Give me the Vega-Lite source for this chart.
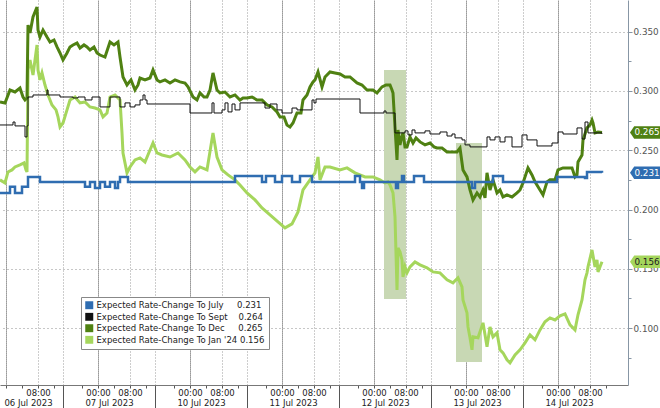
{
"$schema": "https://vega.github.io/schema/vega-lite/v6.json",
"width": 628, "height": 385,
"autosize": {"type": "none"},
"padding": {"left": 0, "top": 0, "right": 32, "bottom": 23},
"background": "white",
"config": {"view": {"stroke": null}, "font": "DejaVu Sans", "axis": {"labelFont": "DejaVu Sans", "labelFontSize": 8.5}, "legend": {"labelFont": "DejaVu Sans"}},
"datasets": {
"zones": [{"q1":413,"q2":435,"v1":0.3177,"v2":0.1246},{"q1":485,"q2":511,"v1":0.2561,"v2":0.0715}],
"tags": [{"s":"Dec","v":0.265},{"s":"July","v":0.231},{"s":"Jan '24","v":0.156}],
"series": [
{"s":"Dec","q":29,"v":0.2907},{"s":"Dec","q":34,"v":0.2899},{"s":"Dec","q":39,"v":0.3008},{"s":"Dec","q":44,"v":0.2991},{"s":"Dec","q":49,"v":0.3025},{"s":"Dec","q":52,"v":0.2949},{"s":"Dec","q":54,"v":0.2924},{"s":"Dec","q":56,"v":0.2941},{"s":"Dec","q":57,"v":0.3556},{"s":"Dec","q":59,"v":0.3489},{"s":"Dec","q":62,"v":0.3624},{"s":"Dec","q":66,"v":0.3708},{"s":"Dec","q":67,"v":0.3514},{"s":"Dec","q":69,"v":0.3455},{"s":"Dec","q":72,"v":0.3514},{"s":"Dec","q":76,"v":0.3455},{"s":"Dec","q":79,"v":0.3413},{"s":"Dec","q":83,"v":0.3430},{"s":"Dec","q":86,"v":0.3371},{"s":"Dec","q":89,"v":0.3320},{"s":"Dec","q":92,"v":0.3261},{"s":"Dec","q":96,"v":0.3320},{"s":"Dec","q":99,"v":0.3371},{"s":"Dec","q":102,"v":0.3388},{"s":"Dec","q":106,"v":0.3404},{"s":"Dec","q":109,"v":0.3362},{"s":"Dec","q":113,"v":0.3388},{"s":"Dec","q":116,"v":0.3371},{"s":"Dec","q":119,"v":0.3345},{"s":"Dec","q":123,"v":0.3371},{"s":"Dec","q":126,"v":0.3320},{"s":"Dec","q":129,"v":0.3303},{"s":"Dec","q":134,"v":0.3286},{"s":"Dec","q":139,"v":0.3413},{"s":"Dec","q":143,"v":0.3388},{"s":"Dec","q":147,"v":0.3413},{"s":"Dec","q":149,"v":0.3286},{"s":"Dec","q":152,"v":0.3118},{"s":"Dec","q":156,"v":0.3050},{"s":"Dec","q":160,"v":0.3093},{"s":"Dec","q":164,"v":0.3008},{"s":"Dec","q":167,"v":0.3050},{"s":"Dec","q":169,"v":0.3109},{"s":"Dec","q":174,"v":0.3093},{"s":"Dec","q":179,"v":0.3109},{"s":"Dec","q":182,"v":0.3177},{"s":"Dec","q":186,"v":0.3093},{"s":"Dec","q":189,"v":0.3076},{"s":"Dec","q":194,"v":0.3093},{"s":"Dec","q":199,"v":0.3067},{"s":"Dec","q":204,"v":0.3093},{"s":"Dec","q":209,"v":0.3076},{"s":"Dec","q":214,"v":0.3067},{"s":"Dec","q":217,"v":0.3034},{"s":"Dec","q":222,"v":0.2949},{"s":"Dec","q":226,"v":0.2924},{"s":"Dec","q":229,"v":0.2983},{"s":"Dec","q":233,"v":0.2949},{"s":"Dec","q":236,"v":0.2949},{"s":"Dec","q":239,"v":0.3008},{"s":"Dec","q":242,"v":0.3152},{"s":"Dec","q":246,"v":0.3008},{"s":"Dec","q":249,"v":0.2983},{"s":"Dec","q":254,"v":0.2991},{"s":"Dec","q":259,"v":0.2949},{"s":"Dec","q":264,"v":0.2966},{"s":"Dec","q":269,"v":0.2924},{"s":"Dec","q":272,"v":0.2941},{"s":"Dec","q":276,"v":0.2941},{"s":"Dec","q":281,"v":0.2949},{"s":"Dec","q":286,"v":0.2924},{"s":"Dec","q":291,"v":0.2924},{"s":"Dec","q":296,"v":0.2882},{"s":"Dec","q":301,"v":0.2865},{"s":"Dec","q":306,"v":0.2823},{"s":"Dec","q":309,"v":0.2781},{"s":"Dec","q":313,"v":0.2781},{"s":"Dec","q":316,"v":0.2713},{"s":"Dec","q":319,"v":0.2696},{"s":"Dec","q":322,"v":0.2730},{"s":"Dec","q":326,"v":0.2814},{"s":"Dec","q":330,"v":0.2814},{"s":"Dec","q":332,"v":0.2924},{"s":"Dec","q":336,"v":0.2966},{"s":"Dec","q":339,"v":0.3034},{"s":"Dec","q":342,"v":0.3076},{"s":"Dec","q":344,"v":0.3093},{"s":"Dec","q":347,"v":0.3160},{"s":"Dec","q":351,"v":0.3034},{"s":"Dec","q":354,"v":0.3118},{"s":"Dec","q":359,"v":0.3160},{"s":"Dec","q":364,"v":0.3152},{"s":"Dec","q":369,"v":0.3143},{"s":"Dec","q":374,"v":0.3118},{"s":"Dec","q":379,"v":0.3118},{"s":"Dec","q":386,"v":0.3067},{"s":"Dec","q":391,"v":0.3050},{"s":"Dec","q":396,"v":0.3008},{"s":"Dec","q":402,"v":0.3008},{"s":"Dec","q":406,"v":0.2983},{"s":"Dec","q":411,"v":0.3034},{"s":"Dec","q":415,"v":0.3050},{"s":"Dec","q":419,"v":0.3050},{"s":"Dec","q":421,"v":0.3008},{"s":"Dec","q":422,"v":0.2983},{"s":"Dec","q":424,"v":0.2696},{"s":"Dec","q":426,"v":0.2418},{"s":"Dec","q":427,"v":0.2671},{"s":"Dec","q":429,"v":0.2545},{"s":"Dec","q":430,"v":0.2587},{"s":"Dec","q":432,"v":0.2646},{"s":"Dec","q":434,"v":0.2528},{"s":"Dec","q":436,"v":0.2528},{"s":"Dec","q":439,"v":0.2612},{"s":"Dec","q":442,"v":0.2561},{"s":"Dec","q":445,"v":0.2604},{"s":"Dec","q":449,"v":0.2570},{"s":"Dec","q":454,"v":0.2545},{"s":"Dec","q":459,"v":0.2561},{"s":"Dec","q":463,"v":0.2528},{"s":"Dec","q":466,"v":0.2519},{"s":"Dec","q":471,"v":0.2519},{"s":"Dec","q":476,"v":0.2486},{"s":"Dec","q":481,"v":0.2486},{"s":"Dec","q":486,"v":0.2486},{"s":"Dec","q":489,"v":0.2519},{"s":"Dec","q":492,"v":0.2334},{"s":"Dec","q":496,"v":0.2275},{"s":"Dec","q":499,"v":0.2165},{"s":"Dec","q":502,"v":0.2081},{"s":"Dec","q":506,"v":0.2140},{"s":"Dec","q":509,"v":0.2106},{"s":"Dec","q":512,"v":0.2165},{"s":"Dec","q":514,"v":0.2098},{"s":"Dec","q":516,"v":0.2309},{"s":"Dec","q":519,"v":0.2165},{"s":"Dec","q":522,"v":0.2250},{"s":"Dec","q":526,"v":0.2140},{"s":"Dec","q":529,"v":0.2165},{"s":"Dec","q":532,"v":0.2106},{"s":"Dec","q":536,"v":0.2123},{"s":"Dec","q":541,"v":0.2106},{"s":"Dec","q":546,"v":0.2140},{"s":"Dec","q":549,"v":0.2165},{"s":"Dec","q":552,"v":0.2224},{"s":"Dec","q":557,"v":0.2351},{"s":"Dec","q":561,"v":0.2292},{"s":"Dec","q":564,"v":0.2233},{"s":"Dec","q":569,"v":0.2165},{"s":"Dec","q":572,"v":0.2123},{"s":"Dec","q":576,"v":0.2233},{"s":"Dec","q":579,"v":0.2250},{"s":"Dec","q":584,"v":0.2250},{"s":"Dec","q":587,"v":0.2334},{"s":"Dec","q":592,"v":0.2351},{"s":"Dec","q":597,"v":0.2351},{"s":"Dec","q":601,"v":0.2351},{"s":"Dec","q":604,"v":0.2275},{"s":"Dec","q":606,"v":0.2292},{"s":"Dec","q":607,"v":0.2401},{"s":"Dec","q":611,"v":0.2460},{"s":"Dec","q":612,"v":0.2587},{"s":"Dec","q":616,"v":0.2688},{"s":"Dec","q":619,"v":0.2713},{"s":"Dec","q":621,"v":0.2755},{"s":"Dec","q":622,"v":0.2730},{"s":"Dec","q":624,"v":0.2646},{"s":"Dec","q":627,"v":0.2654},{"s":"Dec","q":631,"v":0.2650},
{"s":"Jan '24","q":29,"v":0.2250},{"s":"Jan '24","q":34,"v":0.2224},{"s":"Jan '24","q":37,"v":0.2317},{"s":"Jan '24","q":41,"v":0.2334},{"s":"Jan '24","q":44,"v":0.2359},{"s":"Jan '24","q":49,"v":0.2376},{"s":"Jan '24","q":53,"v":0.2393},{"s":"Jan '24","q":55,"v":0.2334},{"s":"Jan '24","q":56,"v":0.2317},{"s":"Jan '24","q":57,"v":0.3177},{"s":"Jan '24","q":59,"v":0.3261},{"s":"Jan '24","q":62,"v":0.3135},{"s":"Jan '24","q":64,"v":0.3261},{"s":"Jan '24","q":66,"v":0.3388},{"s":"Jan '24","q":67,"v":0.3177},{"s":"Jan '24","q":69,"v":0.3093},{"s":"Jan '24","q":71,"v":0.3152},{"s":"Jan '24","q":74,"v":0.3050},{"s":"Jan '24","q":77,"v":0.2966},{"s":"Jan '24","q":81,"v":0.2882},{"s":"Jan '24","q":85,"v":0.2840},{"s":"Jan '24","q":87,"v":0.2781},{"s":"Jan '24","q":89,"v":0.2696},{"s":"Jan '24","q":92,"v":0.2730},{"s":"Jan '24","q":96,"v":0.2840},{"s":"Jan '24","q":99,"v":0.2924},{"s":"Jan '24","q":104,"v":0.2949},{"s":"Jan '24","q":109,"v":0.2899},{"s":"Jan '24","q":114,"v":0.2907},{"s":"Jan '24","q":119,"v":0.2865},{"s":"Jan '24","q":124,"v":0.2856},{"s":"Jan '24","q":129,"v":0.2840},{"s":"Jan '24","q":132,"v":0.2781},{"s":"Jan '24","q":136,"v":0.2814},{"s":"Jan '24","q":139,"v":0.2949},{"s":"Jan '24","q":144,"v":0.2966},{"s":"Jan '24","q":149,"v":0.2924},{"s":"Jan '24","q":151,"v":0.2646},{"s":"Jan '24","q":152,"v":0.2477},{"s":"Jan '24","q":156,"v":0.2309},{"s":"Jan '24","q":159,"v":0.2359},{"s":"Jan '24","q":164,"v":0.2418},{"s":"Jan '24","q":169,"v":0.2435},{"s":"Jan '24","q":174,"v":0.2401},{"s":"Jan '24","q":179,"v":0.2502},{"s":"Jan '24","q":182,"v":0.2561},{"s":"Jan '24","q":186,"v":0.2477},{"s":"Jan '24","q":191,"v":0.2460},{"s":"Jan '24","q":199,"v":0.2443},{"s":"Jan '24","q":207,"v":0.2477},{"s":"Jan '24","q":214,"v":0.2418},{"s":"Jan '24","q":219,"v":0.2359},{"s":"Jan '24","q":224,"v":0.2317},{"s":"Jan '24","q":229,"v":0.2359},{"s":"Jan '24","q":236,"v":0.2334},{"s":"Jan '24","q":242,"v":0.2646},{"s":"Jan '24","q":246,"v":0.2443},{"s":"Jan '24","q":251,"v":0.2334},{"s":"Jan '24","q":257,"v":0.2292},{"s":"Jan '24","q":264,"v":0.2250},{"s":"Jan '24","q":269,"v":0.2207},{"s":"Jan '24","q":276,"v":0.2140},{"s":"Jan '24","q":284,"v":0.2081},{"s":"Jan '24","q":291,"v":0.2013},{"s":"Jan '24","q":299,"v":0.1955},{"s":"Jan '24","q":307,"v":0.1896},{"s":"Jan '24","q":314,"v":0.1845},{"s":"Jan '24","q":321,"v":0.1879},{"s":"Jan '24","q":327,"v":0.1980},{"s":"Jan '24","q":332,"v":0.2165},{"s":"Jan '24","q":339,"v":0.2250},{"s":"Jan '24","q":344,"v":0.2309},{"s":"Jan '24","q":347,"v":0.2443},{"s":"Jan '24","q":349,"v":0.2250},{"s":"Jan '24","q":354,"v":0.2359},{"s":"Jan '24","q":359,"v":0.2359},{"s":"Jan '24","q":369,"v":0.2334},{"s":"Jan '24","q":376,"v":0.2351},{"s":"Jan '24","q":384,"v":0.2309},{"s":"Jan '24","q":394,"v":0.2275},{"s":"Jan '24","q":402,"v":0.2275},{"s":"Jan '24","q":409,"v":0.2250},{"s":"Jan '24","q":414,"v":0.2224},{"s":"Jan '24","q":417,"v":0.2233},{"s":"Jan '24","q":419,"v":0.2207},{"s":"Jan '24","q":422,"v":0.2140},{"s":"Jan '24","q":424,"v":0.1938},{"s":"Jan '24","q":426,"v":0.1322},{"s":"Jan '24","q":427,"v":0.1676},{"s":"Jan '24","q":429,"v":0.1643},{"s":"Jan '24","q":431,"v":0.1575},{"s":"Jan '24","q":432,"v":0.1432},{"s":"Jan '24","q":434,"v":0.1516},{"s":"Jan '24","q":436,"v":0.1466},{"s":"Jan '24","q":439,"v":0.1516},{"s":"Jan '24","q":444,"v":0.1558},{"s":"Jan '24","q":449,"v":0.1533},{"s":"Jan '24","q":456,"v":0.1508},{"s":"Jan '24","q":462,"v":0.1474},{"s":"Jan '24","q":469,"v":0.1466},{"s":"Jan '24","q":476,"v":0.1407},{"s":"Jan '24","q":482,"v":0.1381},{"s":"Jan '24","q":487,"v":0.1424},{"s":"Jan '24","q":491,"v":0.1348},{"s":"Jan '24","q":492,"v":0.1238},{"s":"Jan '24","q":496,"v":0.1128},{"s":"Jan '24","q":497,"v":0.1010},{"s":"Jan '24","q":499,"v":0.0918},{"s":"Jan '24","q":501,"v":0.0817},{"s":"Jan '24","q":502,"v":0.0926},{"s":"Jan '24","q":507,"v":0.0918},{"s":"Jan '24","q":512,"v":0.1044},{"s":"Jan '24","q":516,"v":0.0842},{"s":"Jan '24","q":519,"v":0.1010},{"s":"Jan '24","q":522,"v":0.0926},{"s":"Jan '24","q":526,"v":0.0960},{"s":"Jan '24","q":529,"v":0.0817},{"s":"Jan '24","q":532,"v":0.0791},{"s":"Jan '24","q":536,"v":0.0732},{"s":"Jan '24","q":539,"v":0.0707},{"s":"Jan '24","q":544,"v":0.0774},{"s":"Jan '24","q":549,"v":0.0817},{"s":"Jan '24","q":554,"v":0.0876},{"s":"Jan '24","q":559,"v":0.0943},{"s":"Jan '24","q":564,"v":0.0901},{"s":"Jan '24","q":569,"v":0.0985},{"s":"Jan '24","q":574,"v":0.1053},{"s":"Jan '24","q":579,"v":0.1086},{"s":"Jan '24","q":584,"v":0.1069},{"s":"Jan '24","q":589,"v":0.1103},{"s":"Jan '24","q":594,"v":0.1120},{"s":"Jan '24","q":599,"v":0.1027},{"s":"Jan '24","q":604,"v":0.0985},{"s":"Jan '24","q":607,"v":0.1112},{"s":"Jan '24","q":611,"v":0.1238},{"s":"Jan '24","q":614,"v":0.1407},{"s":"Jan '24","q":616,"v":0.1466},{"s":"Jan '24","q":617,"v":0.1516},{"s":"Jan '24","q":621,"v":0.1659},{"s":"Jan '24","q":624,"v":0.1516},{"s":"Jan '24","q":626,"v":0.1575},{"s":"Jan '24","q":627,"v":0.1474},{"s":"Jan '24","q":631,"v":0.1560},
{"s":"Sept","q":29,"v":0.2713},{"s":"Sept","q":42,"v":0.2738},{"s":"Sept","q":44,"v":0.2705},{"s":"Sept","q":54,"v":0.2612},{"s":"Sept","q":56,"v":0.2705},{"s":"Sept","q":57,"v":0.2949},{"s":"Sept","q":62,"v":0.2966},{"s":"Sept","q":76,"v":0.3008},{"s":"Sept","q":77,"v":0.2966},{"s":"Sept","q":89,"v":0.2949},{"s":"Sept","q":102,"v":0.2941},{"s":"Sept","q":107,"v":0.2949},{"s":"Sept","q":114,"v":0.2924},{"s":"Sept","q":121,"v":0.2949},{"s":"Sept","q":129,"v":0.2865},{"s":"Sept","q":139,"v":0.2949},{"s":"Sept","q":149,"v":0.2865},{"s":"Sept","q":154,"v":0.2899},{"s":"Sept","q":159,"v":0.2865},{"s":"Sept","q":164,"v":0.2882},{"s":"Sept","q":169,"v":0.2924},{"s":"Sept","q":172,"v":0.2966},{"s":"Sept","q":174,"v":0.2924},{"s":"Sept","q":176,"v":0.2890},{"s":"Sept","q":219,"v":0.2814},{"s":"Sept","q":241,"v":0.2899},{"s":"Sept","q":243,"v":0.2814},{"s":"Sept","q":251,"v":0.2840},{"s":"Sept","q":254,"v":0.2899},{"s":"Sept","q":257,"v":0.2823},{"s":"Sept","q":261,"v":0.2890},{"s":"Sept","q":264,"v":0.2840},{"s":"Sept","q":269,"v":0.2899},{"s":"Sept","q":294,"v":0.2856},{"s":"Sept","q":299,"v":0.2890},{"s":"Sept","q":306,"v":0.2840},{"s":"Sept","q":311,"v":0.2814},{"s":"Sept","q":321,"v":0.2856},{"s":"Sept","q":326,"v":0.2840},{"s":"Sept","q":341,"v":0.2924},{"s":"Sept","q":343,"v":0.2899},{"s":"Sept","q":345,"v":0.2932},{"s":"Sept","q":389,"v":0.2814},{"s":"Sept","q":413,"v":0.2831},{"s":"Sept","q":415,"v":0.2814},{"s":"Sept","q":424,"v":0.2646},{"s":"Sept","q":434,"v":0.2663},{"s":"Sept","q":437,"v":0.2629},{"s":"Sept","q":441,"v":0.2671},{"s":"Sept","q":444,"v":0.2646},{"s":"Sept","q":454,"v":0.2663},{"s":"Sept","q":459,"v":0.2637},{"s":"Sept","q":469,"v":0.2654},{"s":"Sept","q":476,"v":0.2620},{"s":"Sept","q":481,"v":0.2637},{"s":"Sept","q":484,"v":0.2604},{"s":"Sept","q":491,"v":0.2587},{"s":"Sept","q":494,"v":0.2545},{"s":"Sept","q":499,"v":0.2528},{"s":"Sept","q":516,"v":0.2612},{"s":"Sept","q":519,"v":0.2587},{"s":"Sept","q":524,"v":0.2612},{"s":"Sept","q":529,"v":0.2570},{"s":"Sept","q":534,"v":0.2612},{"s":"Sept","q":541,"v":0.2528},{"s":"Sept","q":551,"v":0.2629},{"s":"Sept","q":556,"v":0.2587},{"s":"Sept","q":566,"v":0.2536},{"s":"Sept","q":581,"v":0.2561},{"s":"Sept","q":587,"v":0.2654},{"s":"Sept","q":592,"v":0.2637},{"s":"Sept","q":606,"v":0.2688},{"s":"Sept","q":611,"v":0.2595},{"s":"Sept","q":614,"v":0.2738},{"s":"Sept","q":617,"v":0.2646},{"s":"Sept","q":631,"v":0.2640},
{"s":"July","q":29,"v":0.2140},{"s":"July","q":39,"v":0.2191},{"s":"July","q":44,"v":0.2140},{"s":"July","q":51,"v":0.2191},{"s":"July","q":57,"v":0.2275},{"s":"July","q":69,"v":0.2233},{"s":"July","q":114,"v":0.2191},{"s":"July","q":119,"v":0.2233},{"s":"July","q":124,"v":0.2182},{"s":"July","q":129,"v":0.2233},{"s":"July","q":134,"v":0.2191},{"s":"July","q":139,"v":0.2233},{"s":"July","q":144,"v":0.2182},{"s":"July","q":147,"v":0.2233},{"s":"July","q":149,"v":0.2275},{"s":"July","q":157,"v":0.2233},{"s":"July","q":264,"v":0.2283},{"s":"July","q":291,"v":0.2233},{"s":"July","q":295,"v":0.2283},{"s":"July","q":304,"v":0.2233},{"s":"July","q":311,"v":0.2283},{"s":"July","q":321,"v":0.2233},{"s":"July","q":329,"v":0.2283},{"s":"July","q":341,"v":0.2233},{"s":"July","q":384,"v":0.2283},{"s":"July","q":389,"v":0.2233},{"s":"July","q":391,"v":0.2182},{"s":"July","q":393,"v":0.2233},{"s":"July","q":425,"v":0.2182},{"s":"July","q":427,"v":0.2233},{"s":"July","q":431,"v":0.2283},{"s":"July","q":433,"v":0.2233},{"s":"July","q":443,"v":0.2283},{"s":"July","q":453,"v":0.2233},{"s":"July","q":501,"v":0.2182},{"s":"July","q":504,"v":0.2233},{"s":"July","q":522,"v":0.2283},{"s":"July","q":532,"v":0.2233},{"s":"July","q":586,"v":0.2275},{"s":"July","q":614,"v":0.2266},{"s":"July","q":616,"v":0.2317},{"s":"July","q":631,"v":0.2310}
]
},
"layer": [
{"data": {"name": "zones"}, "mark": {"type": "rect", "color": "#c8d8b4"},
 "encoding": {
  "x": {"field": "q1", "type": "quantitative", "scale": {"domain": [29, 657], "nice": false, "zero": false},
   "axis": {"orient": "bottom", "title": null, "values": [57,138,230,322,414,506,598], "grid": false, "ticks": false, "domain": false, "labelPadding": 13, "labelColor": "#222", "labelOverlap": false, "labelFlush": false, "labelExpr": "['06 Jul 2023','07 Jul 2023','10 Jul 2023','11 Jul 2023','12 Jul 2023','13 Jul 2023','14 Jul 2023'][floor(datum.value / 92)]"}},
  "x2": {"field": "q2"},
  "y": {"field": "v1", "type": "quantitative", "scale": {"domain": [0.052, 0.3767], "nice": false, "zero": false},
   "axis": {"orient": "right", "title": null, "values": [0.075,0.1,0.125,0.15,0.175,0.2,0.225,0.25,0.275,0.3,0.325,0.35], "labelExpr": "indexof(['0.100','0.150','0.200','0.250','0.300','0.350'], format(datum.value, '.3f')) >= 0 ? format(datum.value, '.3f') : ''", "labelOverlap": false, "labelBound": false, "grid": true, "gridDash": [1,3], "gridColor": "#8f8f8f", "gridOpacity": {"condition": {"test": "indexof(['0.100','0.150','0.200','0.250','0.300','0.350'], format(datum.value, '.3f')) >= 0", "value": 1}, "value": 0}, "tickSize": {"condition": {"test": "indexof(['0.100','0.150','0.200','0.250','0.300','0.350'], format(datum.value, '.3f')) >= 0", "value": 4}, "value": 3}, "domainColor": "#8796a5", "tickColor": "#8796a5", "labelColor": "#555555", "labelPadding": 1, "labelFontSize": 8.8}},
  "y2": {"field": "v2"}}},
{"data": {"name": "series"}, "transform": [{"filter": {"field": "s", "equal": "Jan '24"}}],
 "mark": {"type": "line", "strokeWidth": 3, "interpolate": "linear"},
 "encoding": {
  "x": {"field": "q", "type": "quantitative",
   "axis": {"orient": "bottom", "title": null, "values": [35,51,67,83,92,111,127,143,159,175,184,203,219,235,251,267,276,295,311,327,343,359,368,387,403,419,435,451,460,479,495,511,527,543,552,571,587,603,619,635],
    "grid": true, "gridColor": "#9a9a9a", "gridWidth": 1,
    "gridOpacity": {"condition": {"test": "datum.value % 92 == 35 || datum.value % 92 == 67 || datum.value % 92 == 0", "value": 1}, "value": 0},
    "gridDash": {"condition": {"test": "datum.value % 92 == 35", "value": [2,0]}, "value": [1,2]},
    "tickSize": {"condition": {"test": "datum.value % 92 == 0", "value": 23}, "value": 3},
    "tickColor": "#555555", "domainColor": "#777777", "labelPadding": 0, "labelColor": "#222", "labelOverlap": false, "labelFlush": false,
    "labelExpr": "datum.value % 92 == 35 && datum.value > 40 ? '00:00' : (datum.value % 92 == 67 ? '08:00' : '')"}},
  "y": {"field": "v", "type": "quantitative", "axis": null},
  "color": {"field": "s", "type": "nominal",
   "scale": {"domain": ["July","Sept","Dec","Jan '24"], "range": ["#2f6db1","#111111","#4f8112","#a5d65c"]},
   "legend": {"orient": "none", "legendX": 81, "legendY": 297, "title": null, "symbolType": "square", "symbolSize": 16, "symbolStrokeWidth": 4, "symbolOpacity": 1, "fillColor": "white", "strokeColor": "#888888", "padding": 4, "rowPadding": 2.5, "clipHeight": 8.5, "labelOffset": 3, "labelFontSize": 8.5, "labelColor": "#222222", "labelLimit": 400,
    "labelExpr": "'Expected Rate-Change To ' + datum.label + (datum.label == 'July' ? '\u00a0\u00a0\u00a0\u00a0\u00a00.231' : (datum.label == 'Sept' ? '\u00a0\u00a0\u00a0\u00a00.264' : (datum.label == 'Dec' ? '\u00a0\u00a0\u00a0\u00a0\u00a00.265' : '\u00a00.156')))"}}}},
{"data": {"name": "series"}, "transform": [{"filter": {"field": "s", "equal": "Dec"}}],
 "mark": {"type": "line", "strokeWidth": 3, "interpolate": "linear"},
 "encoding": {"x": {"field": "q", "type": "quantitative", "axis": null}, "y": {"field": "v", "type": "quantitative", "axis": null}, "color": {"field": "s", "type": "nominal"}}},
{"data": {"name": "series"}, "transform": [{"filter": {"field": "s", "equal": "Sept"}}],
 "mark": {"type": "line", "strokeWidth": 1, "interpolate": "step-after"},
 "encoding": {"x": {"field": "q", "type": "quantitative", "axis": null}, "y": {"field": "v", "type": "quantitative", "axis": null}, "color": {"field": "s", "type": "nominal"}}},
{"data": {"name": "series"}, "transform": [{"filter": {"field": "s", "equal": "July"}}],
 "mark": {"type": "line", "strokeWidth": 2.5, "interpolate": "step-after"},
 "encoding": {"x": {"field": "q", "type": "quantitative", "axis": null}, "y": {"field": "v", "type": "quantitative", "axis": null}, "color": {"field": "s", "type": "nominal"}}},
{"data": {"name": "tags"},
 "mark": {"type": "point", "shape": "M -1 0 L -0.72 -0.42 L 1 -0.42 L 1 0.42 L -0.72 0.42 Z", "filled": true, "opacity": 1, "strokeWidth": 0},
 "encoding": {"x": {"datum": 674, "type": "quantitative", "axis": null}, "y": {"field": "v", "type": "quantitative", "axis": null},
  "size": {"value": 900},
  "fill": {"condition": [{"test": "datum.s == 'Dec'", "value": "#4f8112"}, {"test": "datum.s == 'July'", "value": "#2f6db1"}], "value": "#a5d65c"}}},
{"data": {"name": "tags"},
 "mark": {"type": "text", "align": "center", "baseline": "middle", "fontSize": 8.8, "font": "DejaVu Sans"},
 "encoding": {"x": {"datum": 676, "type": "quantitative", "axis": null}, "y": {"field": "v", "type": "quantitative", "axis": null},
  "text": {"field": "v", "type": "quantitative", "format": ".3f"},
  "color": {"condition": {"test": "datum.s == 'Jan \\'24'", "value": "#222222"}, "value": "#ffffff"}}}
],
"resolve": {"axis": {"x": "independent", "y": "independent"}}
}
